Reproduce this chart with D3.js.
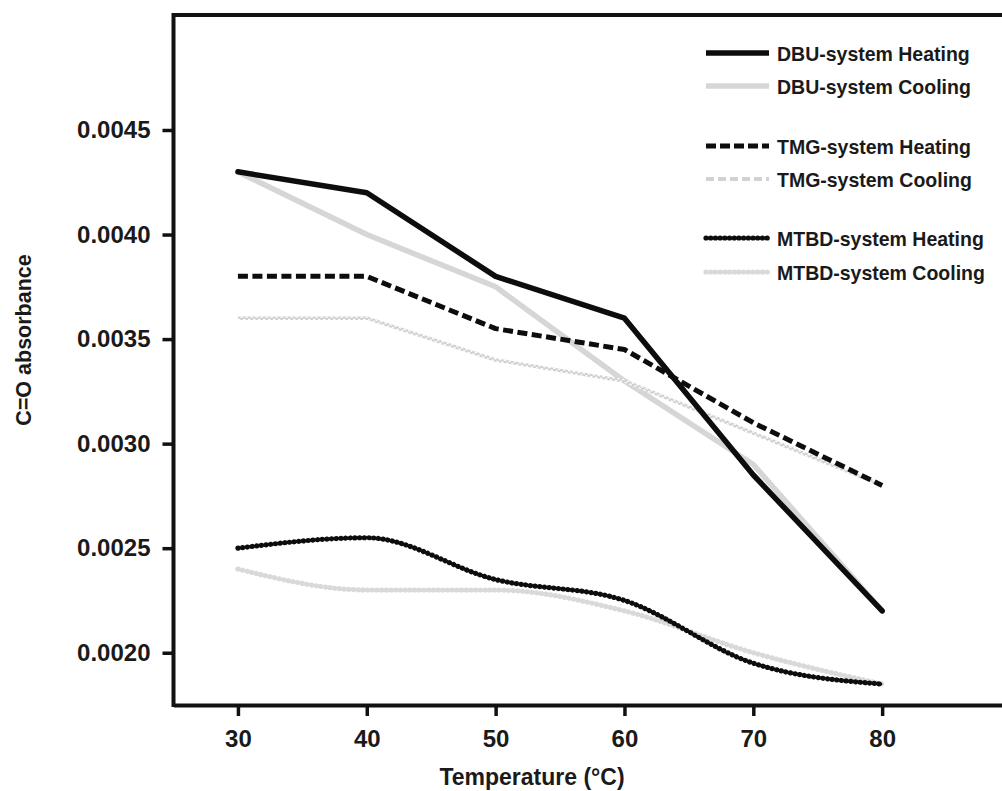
<!DOCTYPE html>
<html>
<head>
<meta charset="utf-8">
<script src="https://cdn.jsdelivr.net/npm/d3@7/dist/d3.min.js"></script>
<style>
  html, body { margin: 0; padding: 0; background: #fff; }
  svg { display: block; }
  text { font-family: "Liberation Sans", Arial, Helvetica, sans-serif; font-weight: bold; fill: #1a1a1a; }
</style>
</head>
<body>
<script>
// Temperatures (°C) and C=O absorbance for each system / direction
const temps = [30, 40, 50, 60, 70, 80];
const dbuHeating  = [0.0043, 0.0042, 0.0038, 0.0036, 0.00285, 0.0022];
const dbuCooling  = [0.0043, 0.0040, 0.00375, 0.0033, 0.0029, 0.0022];
const tmgHeating  = [0.0038, 0.0038, 0.00355, 0.00345, 0.0031, 0.0028];
const tmgCooling  = [0.0036, 0.0036, 0.0034, 0.0033, 0.00305, 0.0028];
const mtbdHeating = [0.0025, 0.00255, 0.00235, 0.00225, 0.00195, 0.00185];
const mtbdCooling = [0.0024, 0.0023, 0.0023, 0.0022, 0.0020, 0.00185];

const xTicks = [30, 40, 50, 60, 70, 80];
const yTicks = [0.0020, 0.0025, 0.0030, 0.0035, 0.0040, 0.0045];
const seriesNames = [
  "DBU-system Heating", "DBU-system Cooling",
  "TMG-system Heating", "TMG-system Cooling",
  "MTBD-system Heating", "MTBD-system Cooling"
];

const W = 1002, H = 791;
const svg = d3.select("body").append("svg").attr("width", W).attr("height", H);

const x = d3.scaleLinear().domain([25, 90]).range([173.5, 1011]);
const y = d3.scaleLinear().domain([0.00175, 0.00505]).range([705, 15]);

const BLACK = "#0d0d0d", GREY = "#d6d6d6";

// Line generators
const straight = d3.line().x(d => x(d[0])).y(d => y(d[1])).curve(d3.curveLinear);
const smooth = d3.line().x(d => x(d[0])).y(d => y(d[1])).curve(d3.curveMonotoneX);
const pts = vals => temps.map((t, i) => [t, vals[i]]);

// Style painters (shared by plot lines and legend samples)
function solid(sel, color) {
  sel.attr("fill", "none").attr("stroke", color).attr("stroke-width", 5.5)
     .attr("stroke-linecap", "round").attr("stroke-linejoin", "round");
}
function drawDashed(g, d, color, w, dash) {
  g.append("path").attr("d", d).attr("fill", "none").attr("stroke", color)
   .attr("stroke-width", w).attr("stroke-dasharray", dash).attr("stroke-linejoin", "round");
}
function drawSquareWave(g, d, color) {
  // thin square-wave look: two offset half-dashed strokes
  g.append("path").attr("d", d).attr("fill", "none").attr("stroke", color)
   .attr("stroke-width", 3.5).attr("stroke-linejoin", "round");
  g.append("path").attr("d", d).attr("fill", "none").attr("stroke", "#fff")
   .attr("stroke-width", 1.3).attr("stroke-dasharray", "2.5,2.5")
   .attr("transform", "translate(0,1.1)");
  g.append("path").attr("d", d).attr("fill", "none").attr("stroke", "#fff")
   .attr("stroke-width", 1.3).attr("stroke-dasharray", "2.5,2.5").attr("stroke-dashoffset", 2.5)
   .attr("transform", "translate(0,-1.1)");
}
function drawBeads(g, d, color) {
  g.append("path").attr("d", d).attr("fill", "none").attr("stroke", color)
   .attr("stroke-width", 2.4);
  g.append("path").attr("d", d).attr("fill", "none").attr("stroke", color)
   .attr("stroke-width", 5.2).attr("stroke-linecap", "round")
   .attr("stroke-dasharray", "0.1,4.6");
}

const plot = svg.append("g");

// Cooling curves first (grey), heating curves on top (black)
plot.append("path").attr("d", straight(pts(dbuCooling))).call(solid, GREY);
drawSquareWave(plot, straight(pts(tmgCooling)), "#cfcfcf");
drawBeads(plot, smooth(pts(mtbdCooling)), "#d9d9d9");

plot.append("path").attr("d", straight(pts(dbuHeating))).call(solid, BLACK);
drawDashed(plot, straight(pts(tmgHeating)), BLACK, 5, "10,4.5");
drawBeads(plot, smooth(pts(mtbdHeating)), BLACK);

// Frame: left and top borders
const frame = svg.append("g").attr("stroke", "#111").attr("stroke-width", 4).attr("fill", "none");
frame.append("line").attr("x1", x(25)).attr("x2", x(25)).attr("y1", y(0.00505) - 2).attr("y2", y(0.00175) + 2);
frame.append("line").attr("x1", x(25)).attr("x2", x(90)).attr("y1", y(0.00505)).attr("y2", y(0.00505));

// Axes
const xAxis = d3.axisBottom(x).tickValues(xTicks).tickSize(11).tickSizeOuter(0)
  .tickPadding(14).tickFormat(d3.format("d"));
const xg = svg.append("g").attr("transform", `translate(0,${y(0.00175)})`).call(xAxis);
xg.select(".domain").attr("stroke", "#111").attr("stroke-width", 4);
xg.selectAll(".tick line").attr("stroke", "#111").attr("stroke-width", 3.5);
xg.selectAll(".tick text").attr("font-size", 24).attr("fill", "#1a1a1a")
  .attr("font-family", "Liberation Sans, Arial, sans-serif").attr("font-weight", "bold");

const yAxis = d3.axisLeft(y).tickValues(yTicks).tickSize(11).tickSizeOuter(0)
  .tickPadding(12).tickFormat(d3.format(".4f"));
const yg = svg.append("g").attr("transform", `translate(${x(25)},0)`).call(yAxis);
yg.select(".domain").remove();
yg.selectAll(".tick line").attr("stroke", "#111").attr("stroke-width", 3.5);
yg.selectAll(".tick text").attr("font-size", 24).attr("fill", "#1a1a1a")
  .attr("font-family", "Liberation Sans, Arial, sans-serif").attr("font-weight", "bold");

// Axis titles
svg.append("text").attr("x", 532).attr("y", 785).attr("text-anchor", "middle")
  .attr("font-size", 23).text("Temperature (°C)");
svg.append("text").attr("transform", "translate(31,340) rotate(-90)").attr("text-anchor", "middle")
  .attr("font-size", 21.5).text("C=O absorbance");

// Legend
const legendRows = [53, 86, 146, 179, 238, 272];
const lg = svg.append("g");
const lx0 = 706, lx1 = 769, tx = 777;
const seg = r => `M${lx0},${r}L${lx1},${r}`;
lg.append("path").attr("d", seg(legendRows[0])).call(solid, BLACK).attr("stroke-linecap", "butt");
lg.append("path").attr("d", seg(legendRows[1])).call(solid, GREY).attr("stroke-linecap", "butt");
drawDashed(lg, seg(legendRows[2]), BLACK, 5, "10,4");
drawDashed(lg, seg(legendRows[3]), "#d2d2d2", 4, "8,4");
drawBeads(lg, seg(legendRows[4]), BLACK);
drawBeads(lg, seg(legendRows[5]), "#d9d9d9");

lg.selectAll("text.leg").data(seriesNames).join("text").attr("class", "leg")
  .attr("x", tx).attr("y", (d, i) => legendRows[i] + 7.5)
  .attr("font-size", 19.5).attr("transform-origin", (d, i) => `${tx}px ${legendRows[i]}px`)
  .attr("transform", "scale(1,1.08)")
  .text(d => d);
</script>
</body>
</html>
